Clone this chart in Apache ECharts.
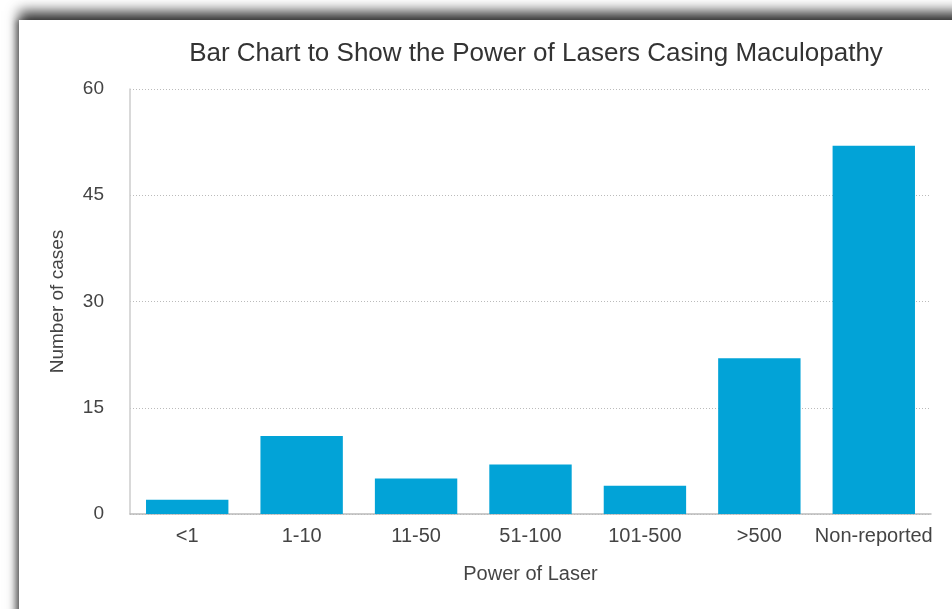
<!DOCTYPE html>
<html>
<head>
<meta charset="utf-8">
<script src="https://cdn.jsdelivr.net/npm/echarts@6/dist/echarts.min.js"></script>
<style>
  html, body { margin: 0; padding: 0; background: #fff; overflow: hidden; }
  #card {
    position: absolute; left: 19px; top: 20px; width: 1000px; height: 700px;
    background: #fff;
    box-shadow: 0 -9px 12px rgba(0,0,0,0.75), -3px 0 6px rgba(0,0,0,0.35);
  }
  #main { position: absolute; left: 0; top: 0; width: 952px; height: 609px; }
</style>
</head>
<body>
<div id="card"></div>
<div id="main"></div>
<script>
// categories and values
const categories = ['<1', '1-10', '11-50', '51-100', '101-500', '>500', 'Non-reported'];
const cases = [2, 11, 5, 7, 4, 22, 52];
const yTicks = [0, 15, 30, 45, 60];

const chartDom = document.getElementById('main');
const myChart = echarts.init(chartDom);
const font = 'Liberation Sans, Arial, sans-serif';

const option = {
  animation: false,
  title: {
    text: 'Bar Chart to Show the Power of Lasers Casing Maculopathy',
    left: 531, top: 36, textAlign: 'center',
    textStyle: { fontFamily: font, fontSize: 26, fontWeight: 'normal', color: '#333' }
  },
  grid: { left: 130, right: 21, top: 89, bottom: 95 },
  xAxis: {
    type: 'category',
    data: categories,
    name: 'Power of Laser',
    nameLocation: 'middle',
    nameGap: 50,
    nameTextStyle: { fontFamily: font, fontSize: 20, color: '#444' },
    axisLine: { lineStyle: { color: '#bbb', width: 1.5 } },
    axisTick: { show: false },
    axisLabel: { fontFamily: font, fontSize: 20, color: '#444', margin: 12, interval: 0 }
  },
  yAxis: {
    type: 'value',
    min: yTicks[0], max: yTicks[yTicks.length - 1], interval: 15,
    name: 'Number of cases',
    nameLocation: 'middle',
    nameGap: 63,
    nameTextStyle: { fontFamily: font, fontSize: 19, color: '#444' },
    axisLine: { show: true, lineStyle: { color: '#ccc', width: 1.5 } },
    axisTick: { show: false },
    axisLabel: { fontFamily: font, fontSize: 19, color: '#444', margin: 26 },
    splitLine: { lineStyle: { color: '#bbb', type: [1, 2], width: 1 } }
  },
  series: [
    {
      type: 'bar',
      data: cases,
      barWidth: '72%',
      itemStyle: { color: '#02a3d7' }
    }
  ]
};
option && myChart.setOption(option);
</script>
</body>
</html>
